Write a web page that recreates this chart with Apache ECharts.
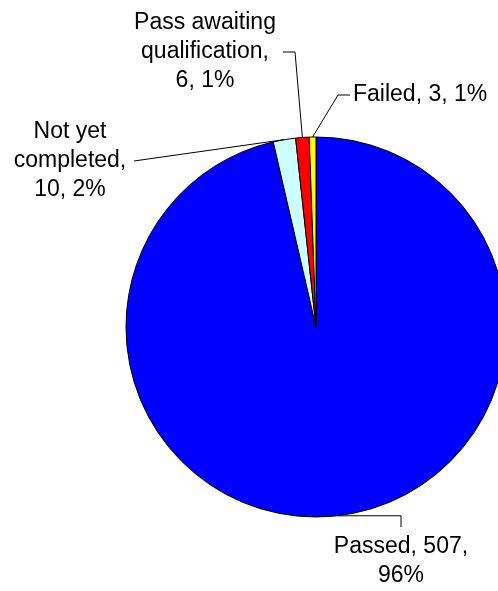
<!DOCTYPE html>
<html>
<head>
<meta charset="utf-8">
<script src="https://cdn.jsdelivr.net/npm/echarts@6/dist/echarts.min.js"></script>
<style>html,body{margin:0;padding:0;background:#fff;}#c{width:498px;height:591px;}</style>
</head>
<body>
<div id="c"></div>
<script>
const categories = ['Passed', 'Not yet completed', 'Pass awaiting qualification', 'Failed'];
const values = [507, 10, 6, 3];
const colors = ['#0000FF', '#CCFFFF', '#FF0000', '#FFFF00'];
const wrappedNames = ['Passed,', 'Not yet\ncompleted,', 'Pass awaiting\nqualification,', 'Failed,'];
const valueBreaks = [' {v},\n{p}%', '\n{v}, {p}%', '\n{v}, {p}%', ' {v}, {p}%'];

// pie geometry
const CX = 316, CY = 327, R = 190;

// label anchors (layout only)
const labelPos = [
  {x: 401, y: 561, align: 'center'},
  {x: 70, y: 161, align: 'center'},
  {x: 205, y: 52, align: 'center'},
  {x: 353, y: 95, align: 'left'}
];
// leader line bends (layout only): points after the slice edge point
const leaderTail = [
  function (e) { return [[401, e[1]], [401, 527]]; },
  function (e) { return [[134, 161]]; },
  function (e) { return [[295, 52], [283, 52]]; },
  function (e) { return [[338, 95], [350, 95]]; }
];

const total = values.reduce((a, b) => a + b, 0);
let acc = 0;
const graphics = [];
values.forEach(function (v, i) {
  const mid = (acc + v / 2) / total * Math.PI * 2;
  acc += v;
  const edge = [CX + R * Math.sin(mid), CY - R * Math.cos(mid)];
  const pts = [edge].concat(leaderTail[i](edge));
  graphics.push({
    type: 'polyline',
    shape: {points: pts},
    style: {stroke: '#000', lineWidth: 1, fill: null},
    silent: true,
    z: 10
  });
});

const chart = echarts.init(document.getElementById('c'), null, {renderer: 'canvas'});
chart.setOption({
  animation: false,
  backgroundColor: '#fff',
  graphic: graphics,
  series: [{
    type: 'pie',
    center: [CX, CY],
    radius: [0, R],
    startAngle: 90,
    clockwise: true,
    percentPrecision: 0,
    avoidLabelOverlap: false,
    emphasis: {disabled: true},
    itemStyle: {borderColor: '#000', borderWidth: 1},
    label: {
      show: true,
      position: 'outside',
      color: '#000',
      fontFamily: 'Liberation Sans, Arial, sans-serif',
      fontSize: 23,
      lineHeight: 29,
      formatter: function (p) {
        return wrappedNames[p.dataIndex] + valueBreaks[p.dataIndex].replace('{v}', p.value).replace('{p}', Math.round(p.percent));
      }
    },
    labelLine: {show: false},
    labelLayout: function (params) {
      const lp = labelPos[params.dataIndex];
      return {x: lp.x, y: lp.y, align: lp.align, verticalAlign: 'middle'};
    },
    data: categories.map((c, i) => ({name: c, value: values[i], itemStyle: {color: colors[i]}}))
  }]
});
</script>
</body>
</html>
